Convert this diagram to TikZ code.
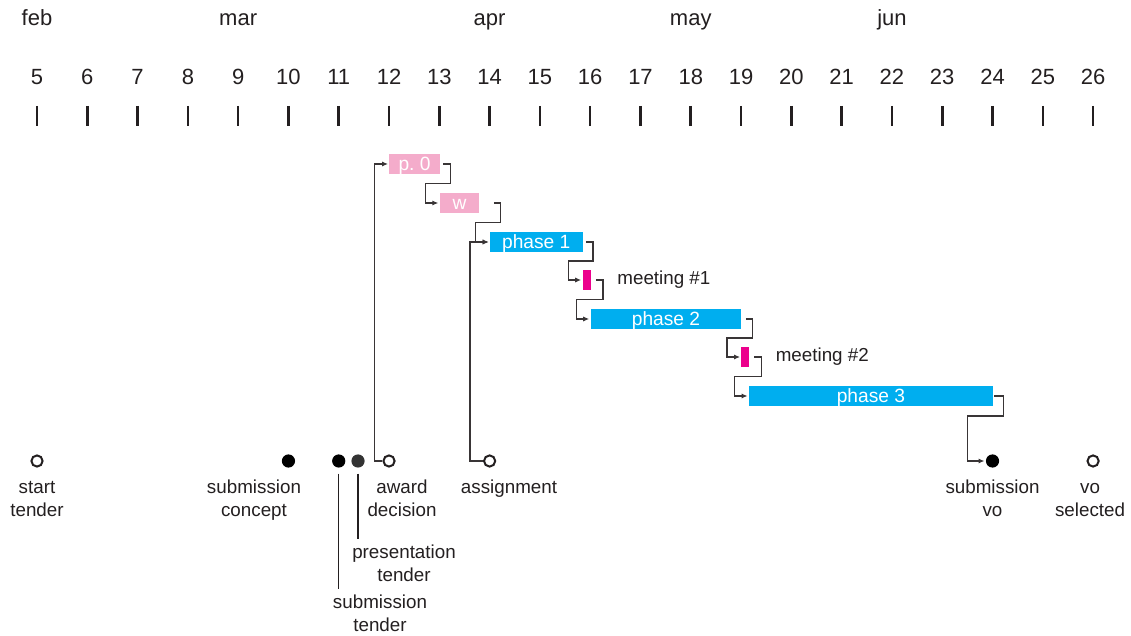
\documentclass[tikz,border=0pt]{standalone}
\usepackage{fontspec}
\setmainfont{Liberation Sans}
\usetikzlibrary{arrows.meta,calc,positioning}
\definecolor{ink}{HTML}{231F20}
\definecolor{lpink}{HTML}{F4ACCB}
\definecolor{pcyan}{HTML}{00AEEF}
\definecolor{pmag}{HTML}{EC008C}
\tikzset{
  bar/.style={rectangle, inner sep=0pt, minimum height=10pt, text=white,
    font=\fontsize{9.6}{11.5}\selectfont, text height=7pt, text depth=0pt, anchor=west},
  conn/.style={draw=ink!90, line width=0.6pt, shorten >=0.5pt,
    -{Latex[length=3pt,width=2.6pt]}},
  leader/.style={draw=ink, line width=0.6pt, shorten <=2.8pt, shorten >=1.5pt},
  msopen/.style={circle, draw=ink, line width=1pt, fill=white, minimum size=5.6pt, inner sep=0pt},
  msfull/.style={circle, fill=black, minimum size=6.6pt, inner sep=0pt},
  msdark/.style={msfull, fill=black!80},
  mslbl/.style={anchor=north, align=center, inner sep=0pt},
  head/.style={anchor=base, inner sep=0pt, font=\fontsize{11}{13}\selectfont},
  note/.style={inner sep=0pt}
}
\begin{document}
\begin{tikzpicture}[x=25.145pt, y=-0.5pt, font=\fontsize{9.4}{11.5}\selectfont, text=ink]
  \useasboundingbox (4.2643,0) rectangle (26.754,636);
  % months and weeks
  \foreach \w/\m in {5/feb, 9/mar, 14/apr, 18/may, 22/jun}
    \node[head] (mon-\m) at (\w,26) {\m};
  \foreach \w in {5,...,26}
  {
    \node[head] (wk\w) at (\w,85) {\w};
    \draw[ink, line width=1.3pt] (\w,106) -- (\w,126);
  }

  % bars
  \foreach \n/\s/\e/\y/\c/\t in {p0/12/13/164/lpink/p.\ 0, w/13/13.79/203/lpink/w,
      ph1/14/15.84/242/pcyan/phase 1, m1/15.84/16/280/pmag/, ph2/16/19/319/pcyan/phase 2,
      m2/19/19.15/357/pmag/, ph3/19.15/24/396/pcyan/phase 3}
    \node[bar, fill=\c, minimum width={(\e-\s)*25.145pt}] (\n) at (\s,\y) {\t};
  \node[note, right=13pt of m1] (m1-lbl) {meeting \#1};
  \node[note, right=13pt of m2] (m2-lbl) {meeting \#2};

  % milestones
  \foreach \n/\w/\s in {start/5/msopen, subc/10/msfull, subt/11/msfull, pres/11.383/msdark,
      award/12/msopen, assign/14/msopen, subvo/24/msfull, vosel/26/msopen}
    \node[\s] (\n) at (\w,461) {};
  \foreach \n/\w/\y/\t in {start/5/477/start\\tender, subc/9.315/477/submission\\concept,
      award/12.258/477/award\\decision, assign/14.386/477/assignment,
      subvo/24/477/submission\\vo, vosel/25.94/477/vo\\selected,
      pres/12.298/542/presentation\\tender, subt/11.82/592/submission\\tender}
    \node[mslbl] (\n-lbl) at (\w,\y) {\strut\t};
  \draw[leader] (pres) -- (pres |- pres-lbl.north);
  \draw[leader] (subt) -- (subt |- subt-lbl.north);

  % connectors
  \foreach \a/\b/\g in {p0/w/1.5pt, w/ph1/7pt, ph1/m1/1.5pt, m1/ph2/2.5pt, ph2/m2/2pt, m2/ph3/2.5pt}
  {
    \coordinate (mid) at ($(\a.east)!.5!(\b.west)$);
    \draw[conn] ([xshift=\g]\a.east) -- ++(3.5pt,0) |- ($(mid -| \b.west)+(-7pt,0)$) |- (\b.west);
  }
  \draw[conn] ([xshift=0.5pt]ph3.east) -- ++(4.5pt,0) -- ++(0,-10pt)
    -| ([xshift=-12.5pt]subvo.center) -- (subvo.west);
  \draw[conn] (award.west) -- ++(-4pt,0) |- (p0.west);
  \draw[conn] (assign.west) -- ++(-6.5pt,0) |- (ph1.west);
\end{tikzpicture}
\end{document}
